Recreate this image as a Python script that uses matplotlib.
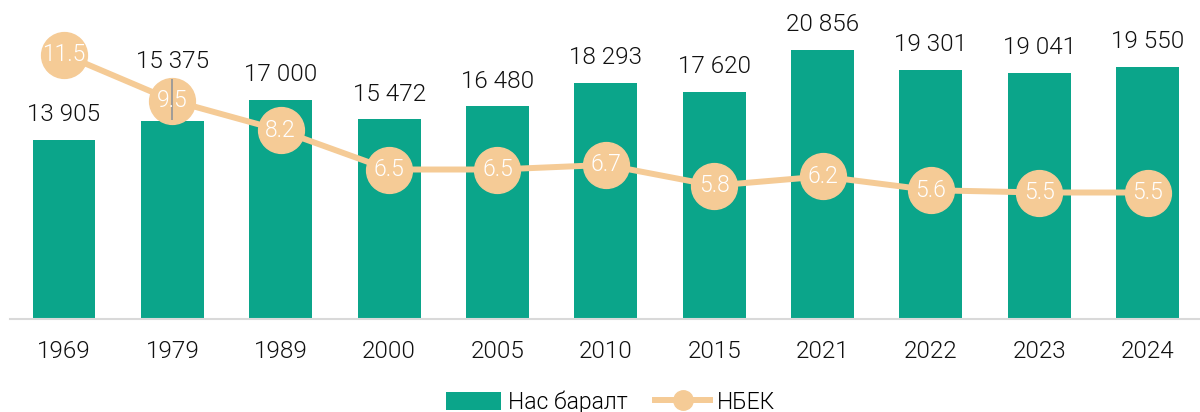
import matplotlib.pyplot as plt
from matplotlib.lines import Line2D
from matplotlib.patches import Patch

plt.rcParams['font.family'] = ['Roboto', 'DejaVu Sans']
plt.rcParams['font.weight'] = 300

years = ['1969', '1979', '1989', '2000', '2005', '2010', '2015', '2021', '2022', '2023', '2024']
population = [13905, 15375, 17000, 15472, 16480, 18293, 17620, 20856, 19301, 19041, 19550]
nbek = [11.5, 9.5, 8.2, 6.5, 6.5, 6.7, 5.8, 6.2, 5.6, 5.5, 5.5]

bar_color = '#0ba58a'
line_color = '#f5cb96'
text_color = '#111111'

fig = plt.figure(figsize=(12, 4.12), dpi=100)
ax = fig.add_axes([0.0082, 0.2257, 0.9933, 0.7743])
x = list(range(len(years)))

ax.bar(x, population, width=0.58, color=bar_color, zorder=2)

ax.set_ylim(0, 24730)
ax.set_xlim(-0.5, len(years) - 0.5)
ax.set_yticks([])
ax.set_xticks(x)
ax.set_xticklabels(years, fontsize=17.5, color=text_color, fontweight=300)
ax.tick_params(axis='x', length=0, pad=15)
for s in ['top', 'right', 'left']:
    ax.spines[s].set_visible(False)
ax.spines['bottom'].set_color('#d9d9d9')
ax.spines['bottom'].set_linewidth(1.5)

ax2 = ax.twinx()
ax2.plot(x, nbek, color=line_color, linewidth=4.3, marker='o', markersize=33,
         markerfacecolor=line_color, markeredgecolor=line_color, zorder=3)
# thin grey stroke visible over the 1979 marker
ax2.vlines(x[1], nbek[1] - 0.85, nbek[1] + 0.95, color='#999999', linewidth=1.3, zorder=3.5)
for xi, v in zip(x, nbek):
    ax2.text(xi, v, f'{v}', ha='center', va='center', fontsize=16.5,
             color='white', fontweight=300, zorder=4)
ax2.set_ylim(0, 13.87)
ax2.set_yticks([])
for s in ['top', 'right', 'left', 'bottom']:
    ax2.spines[s].set_visible(False)

# bar value labels; the 1979 one is lifted above its marker
for i, (xi, v) in enumerate(zip(x, population)):
    lbl = f'{v:,}'.replace(',', ' ')
    off = 34 if i == 1 else 10
    ax2.annotate(lbl, (xi, v), xycoords=ax.transData, xytext=(0, off),
                 textcoords='offset points', ha='center', va='bottom',
                 fontsize=17.5, color=text_color, fontweight=300, zorder=5)

handles = [Patch(facecolor=bar_color, edgecolor='none'),
           Line2D([], [], color=line_color, linewidth=4.3, marker='o',
                  markersize=14)]
fig.legend(handles, ['Нас баралт', 'НБЕК'], loc='center', bbox_to_anchor=(0.509, 0.024),
           ncol=2, frameon=False, handlelength=2.4, handleheight=0.8,
           columnspacing=1.2, handletextpad=0.3, prop={'size': 16.5, 'weight': 300})

fig.savefig('out.png', dpi=100)
